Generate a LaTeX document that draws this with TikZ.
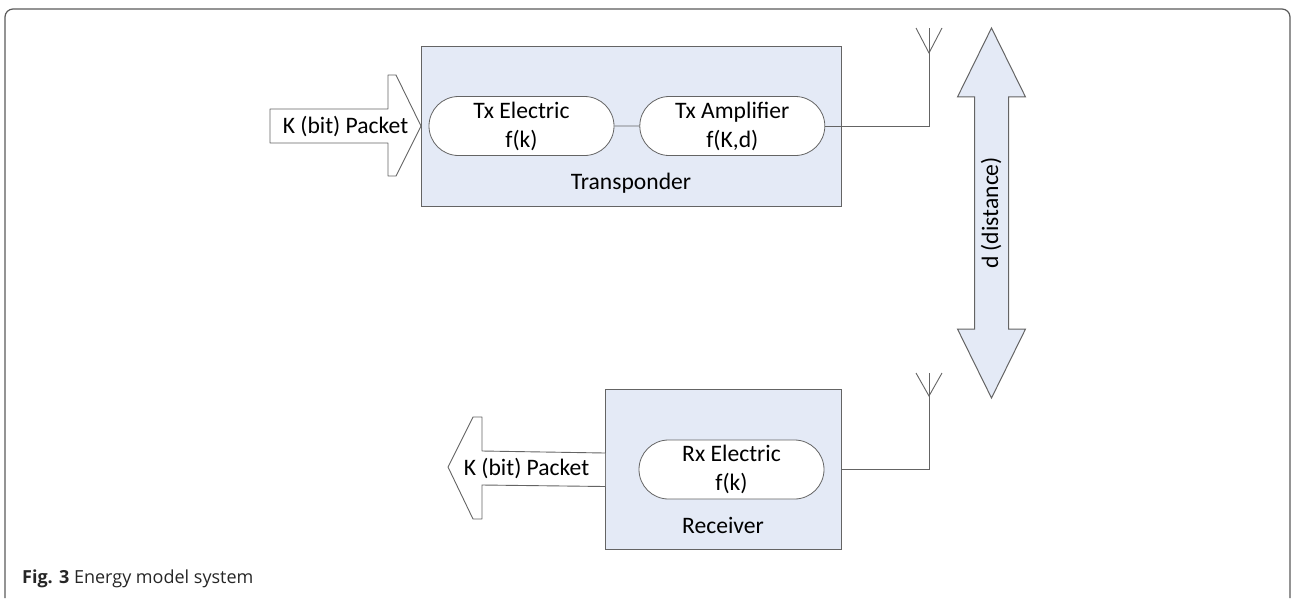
\documentclass[tikz,border=0pt]{standalone}
\usepackage{fontspec}
\usepackage{xcolor}
\setmainfont{Carlito}
\newfontfamily\capfont{Open Sans}
\usetikzlibrary{shapes.arrows, shapes.misc, positioning, calc}
\definecolor{blockblue}{RGB}{228, 234, 246}
\definecolor{edgegray}{RGB}{100, 100, 100}
\definecolor{framegray}{RGB}{90, 90, 90}

\begin{document}
\begin{tikzpicture}[
    x=1pt, y=1pt,
    block/.style={rectangle, draw=edgegray, fill=blockblue, line width=1pt, inner sep=0pt},
    pill/.style={rounded rectangle, draw=edgegray, fill=white, line width=0.8pt, minimum width=185pt, minimum height=59pt, inner sep=0pt, align=center, font=\fontsize{23.6}{29}\selectfont},
    caption/.style={anchor=base, inner sep=0pt, font=\fontsize{23.6}{29}\selectfont},
    packet/.style={draw=edgegray, fill=white, line width=0.9pt, line join=round},
    wire/.style={draw=edgegray, line width=0.9pt},
    span/.style={double arrow, draw=edgegray, fill=blockblue, line width=1pt, rotate=90, minimum height=370pt, double arrow tip angle=52.5, double arrow head extend=17pt, inner xsep=0pt, inner ysep=5.5pt, text height=17.5pt, text depth=4.5pt, font=\fontsize{23.6}{29}\selectfont}
]
\useasboundingbox (0,-598) rectangle (1291,0);

% Outer frame
\draw[line width=1.2pt, draw=framegray, rounded corners=8pt] (5,-598) -- (5,-9) -- (1290,-9) -- (1290,-598);

% Blocks
\node[block, minimum width=420pt, minimum height=160pt] (transponder) at (631,-126) {};
\node[block, minimum width=236pt, minimum height=160pt] (receiver) at (723,-469) {};

% Pills
\node[pill] (txelec) at (521.5,-126) {Tx Electric\\f(k)};
\node[pill, right=25pt of txelec] (txamp) {Tx Amplifier\\f(K,d)};
\node[pill] (rxelec) at (731.5,-469.5) {Rx Electric\\f(k)};

% Block labels
\node[caption] (txlabel) at (631,-189) {Transponder};
\node[caption] (rxlabel) at (723,-533) {Receiver};

% Packet arrows
\draw[packet] (270,-109) -- (388,-109) -- (388,-75) -- (396,-75) -- (421,-126) -- (396,-176) -- (388,-176) -- (388,-143) -- (270,-143) -- cycle;
\node[caption] (packetin) at (345.5,-133) {K (bit) Packet};
\draw[packet] (605,-453) -- (482,-451) -- (482,-417) -- (473,-417) -- (448,-467) -- (473,-519) -- (482,-519) -- (482,-485) -- (605,-486.5);
\node[caption] (packetout) at (526.5,-475.5) {K (bit) Packet};

% Distance arrow
\node[span] (dist) at (991.5,-213) {d (distance)};

% Antennas
\coordinate (txtip) at (929,-28);
\coordinate (txbase) at (929,-53);
\coordinate (rxtip) at (929,-373);
\coordinate (rxbase) at (929,-396);
\draw[wire] ($(txtip)+(-13,0)$) -- (txbase) -- ($(txtip)+(13,0)$);
\draw[wire] ($(rxtip)+(-13,0)$) -- (rxbase) -- ($(rxtip)+(13,0)$);

% Connectors
\draw[wire] (txelec) -- (txamp);
\draw[wire] (txamp.east) -| (txtip);
\draw[wire] (receiver.east) -| (rxtip);

% Caption
\node[anchor=base west, inner sep=0pt, text=black!85, font=\fontsize{18}{22}\selectfont\capfont] (figcap) at (22,-583) {\textbf{Fig. 3} Energy model system};

\end{tikzpicture}
\end{document}
